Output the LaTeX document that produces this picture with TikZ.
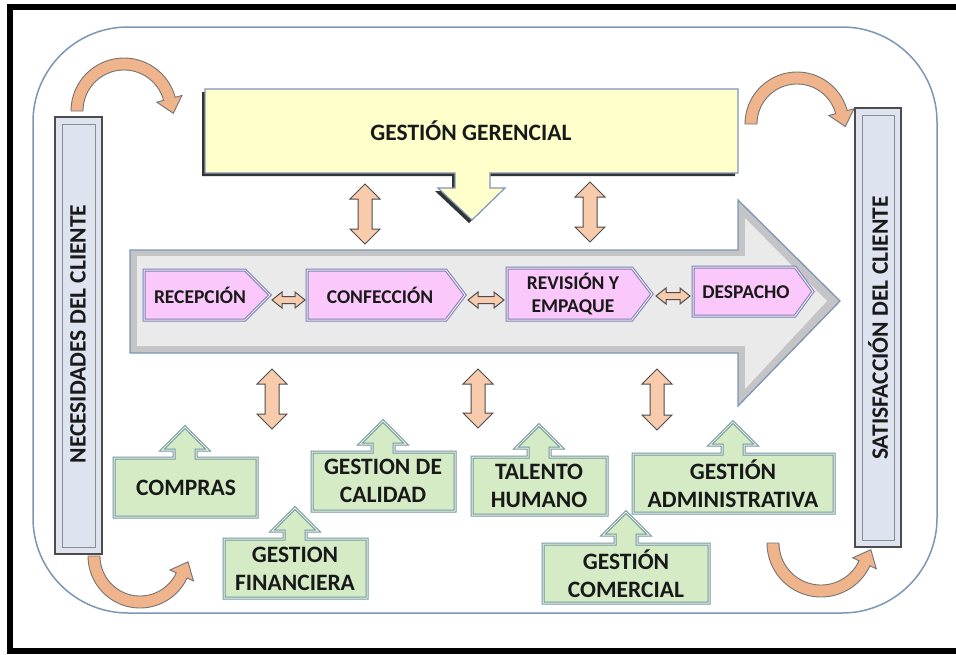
\documentclass[tikz,border=0pt]{standalone}
\usepackage{fontspec}
\setmainfont{Carlito}
\usetikzlibrary{calc}
\definecolor{bluegray}{RGB}{125,150,182}
\definecolor{yel}{RGB}{255,255,204}
\definecolor{pinkf}{RGB}{250,200,250}
\definecolor{pinkbd}{RGB}{120,130,175}
\definecolor{greenf}{RGB}{212,235,198}
\definecolor{greenbd}{RGB}{115,150,160}
\definecolor{barf}{RGB}{221,228,240}
\definecolor{peach}{RGB}{248,203,173}
\definecolor{peachd}{RGB}{240,180,140}
\definecolor{grayout}{RGB}{196,196,198}
\definecolor{grayin}{RGB}{234,234,234}

\newcommand{\vdarr}[3]{%
  \path[peacharr] (#1,#2) -- ++(15,15) -- ++(-8,0) -- (#1+7,#3-15) -- ++(8,0) -- (#1,#3)
    -- ++(-15,-15) -- ++(8,0) -- (#1-7,#2+15) -- ++(-8,0) -- cycle;}
\newcommand{\hdarr}[3]{%
  \path[peacharr] (#1,#3) -- ++(10,-8) -- ++(0,4.5) -- (#2-10,#3-3.5) -- ++(0,-4.5) -- (#2,#3)
    -- ++(-10,8) -- ++(0,-4.5) -- (#1+10,#3+3.5) -- ++(0,4.5) -- cycle;}
% cx cy rout rin th1 th2 tangentoffset
\newcommand{\bandarr}[7]{%
  \path[bandarrow] plot[domain=#5:#6, samples=40] ({#1+#3*cos(\x)},{#2+#3*sin(\x)})
   -- ({#1+(#3+7)*cos(#6)},{#2+(#3+7)*sin(#6)})
   -- ({#1+(#3+#4)/2*cos(#6)+15*cos(#6+#7)},{#2+(#3+#4)/2*sin(#6)+15*sin(#6+#7)})
   -- ({#1+(#4-7)*cos(#6)},{#2+(#4-7)*sin(#6)})
   -- plot[domain=#6:#5, samples=40] ({#1+#4*cos(\x)},{#2+#4*sin(\x)}) -- cycle;}
% x1 xb xt y1 y2
\newcommand{\pinkbox}[5]{%
  \foreach \st in {pinkA,pinkB}{%
  \path[\st] (#1,#4) -- (#2,#4) -- (#3,{(#4+#5)/2}) -- (#2,#5) -- (#1,#5) -- cycle;}}
% x1 y1 x2 y2 xc yt yh
\newcommand{\greenbox}[7]{%
  \foreach \st in {greenA,greenB}{%
  \path[\st] (#1,#2) -- (#5-11,#2) -- (#5-11,#7) -- (#5-23,#7) -- (#5,#6) -- (#5+23,#7)
    -- (#5+11,#7) -- (#5+11,#2) -- (#3,#2) -- (#3,#4) -- (#1,#4) -- cycle;}}

\begin{document}
\begin{tikzpicture}[x=1pt,y=-1pt,
  peacharr/.style={fill=peach, draw=black!70, line width=1pt, line join=miter},
  bandarrow/.style={fill=peachd, draw=black!55, line width=0.9pt},
  pinkA/.style={fill=pinkf, draw=pinkbd, line width=3pt, line join=miter},
  pinkB/.style={draw=pinkf!45!white, line width=1pt, line join=miter},
  greenA/.style={fill=greenf, draw=greenbd, line width=3pt, line join=miter},
  greenB/.style={draw=greenf!40!white, line width=1pt, line join=miter},
  bigtxt/.style={font=\bfseries\fontsize{23.5}{28}\selectfont, align=center, inner sep=0pt, text=black!90},
  pinktxt/.style={font=\bfseries\fontsize{19.5}{23}\selectfont, align=center, inner sep=0pt, text=black!90},
  bar/.style={fill=barf, draw=black!70, line width=1.6pt}]
\path[use as bounding box] (0,0) rectangle (956,654);
\clip (0,0) rectangle (956,654);
\fill[white] (0,0) rectangle (956,654);
% outer frame
\draw[line width=6pt] (10,7) rectangle (966,651);
% rounded frame
\draw[bluegray, line width=1.5pt, rounded corners=95pt] (33,27) rectangle (937,613);

% side bars
\path[bar] (55,117) rectangle (102,554);
\draw[black!45, line width=1pt] (62,124) rectangle (95,547);
\node[bigtxt, rotate=90] (nec) at (78,334) {NECESIDADES DEL CLIENTE};
\path[bar] (855,108) rectangle (901,547);
\draw[black!45, line width=1pt] (862,115) rectangle (894,540);
\node[bigtxt, rotate=90] (sat) at (878,328) {SATISFACCIÓN DEL CLIENTE};

% big process arrow
\path[fill=grayout, draw=bluegray, line width=1.3pt, line join=miter]
  (130,250) -- (738,250) -- (738,200) -- (840,301) -- (738,406) -- (738,353) -- (130,353) -- cycle;
\fill[grayin] (137,256) -- (745,256) -- (745,218) -- (827,301) -- (745,389) -- (745,346) -- (137,346) -- cycle;

% Gestion gerencial callout
\path[fill=black!80, shift={(-3,3)}]
  (205,89) -- (738,89) -- (738,173) -- (490,173) -- (490,188) -- (505,188) -- (472,220)
  -- (438,188) -- (455,188) -- (455,173) -- (205,173) -- cycle;
\path[fill=yel, draw=bluegray, line width=1.2pt, line join=miter]
  (205,89) -- (738,89) -- (738,173) -- (490,173) -- (490,188) -- (505,188) -- (472,220)
  -- (438,188) -- (455,188) -- (455,173) -- (205,173) -- cycle;
\node[bigtxt] (ger) at (471,131) {GESTIÓN GERENCIAL};

% process steps
\pinkbox{144}{245}{270}{270}{320}
\node[pinktxt] (rec) at (200,295) {RECEPCIÓN};
\pinkbox{307}{446}{465}{270}{320}
\node[pinktxt] (conf) at (380,295) {CONFECCIÓN};
\pinkbox{507}{632}{652}{268}{320}
\node[pinktxt] (rev) at (573,294) {REVISIÓN Y\\EMPAQUE};
\pinkbox{693}{795}{813}{267}{316}
\node[pinktxt] (desp) at (746,292) {DESPACHO};

\hdarr{272}{305}{300}
\hdarr{468}{504}{300}
\hdarr{656}{690}{296}

% vertical double arrows
\vdarr{365}{184}{244}
\vdarr{590}{182}{242}
\vdarr{272}{369}{429}
\vdarr{478}{369}{428}
\vdarr{657}{369}{430}

% support areas
\greenbox{114}{458}{257}{517}{185}{427}{450}
\node[bigtxt] (comp) at (186,488) {COMPRAS};
\greenbox{224}{539}{367}{598}{295}{508}{531}
\node[bigtxt] (fin) at (295,569) {GESTION\\FINANCIERA};
\greenbox{312}{452}{455}{511}{383}{421}{444}
\node[bigtxt] (cal) at (383,481) {GESTION DE\\CALIDAD};
\greenbox{472}{457}{607}{515}{539}{425}{448}
\node[bigtxt] (tal) at (539,486) {TALENTO\\HUMANO};
\greenbox{633}{454}{834}{513}{733}{422}{445}
\node[bigtxt] (adm) at (733,484) {GESTIÓN\\ADMINISTRATIVA};
\greenbox{543}{544}{709}{603}{626}{512}{535}
\node[bigtxt] (com) at (626,574) {GESTIÓN\\COMERCIAL};

% curved arrows
\bandarr{124}{111}{53}{41}{180}{345}{90}
\bandarr{797}{124}{52}{40}{180}{345}{90}
\bandarr{140}{556}{52}{40}{180}{25}{-90}
\bandarr{821}{543}{54}{42}{180}{25}{-90}
\end{tikzpicture}
\end{document}
